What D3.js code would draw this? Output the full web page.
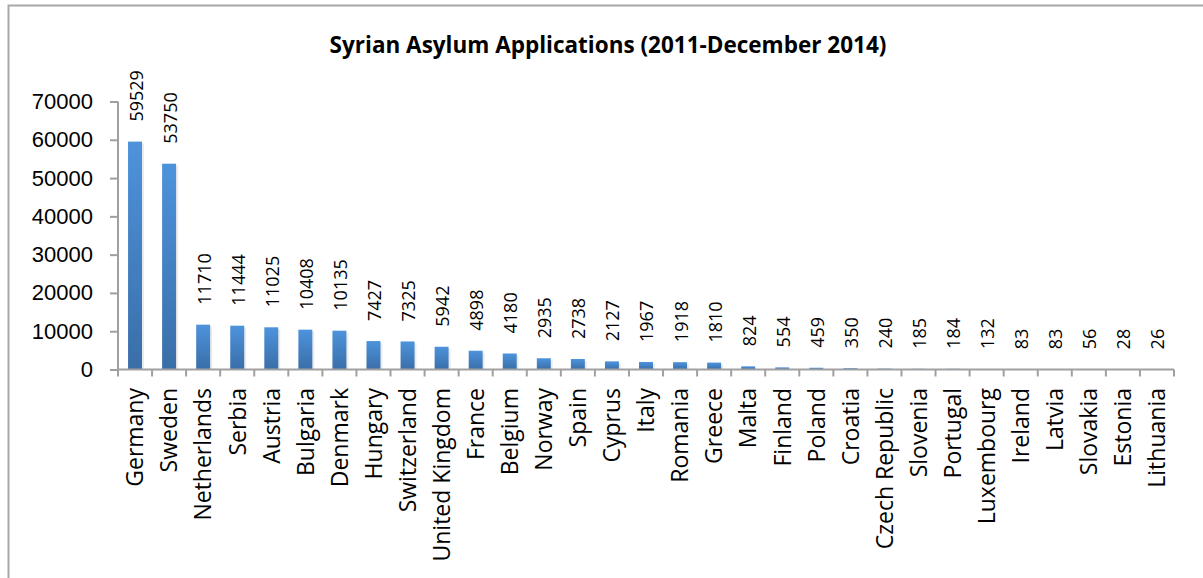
<!DOCTYPE html>
<html>
<head>
<meta charset="utf-8">
<script src="https://cdn.jsdelivr.net/npm/d3@7"></script>
<style>
  body { margin: 0; background: #fff; }
  svg { display: block; }
</style>
</head>
<body>
<svg id="chart"></svg>
<script>
"use strict";

var countries = ["Germany", "Sweden", "Netherlands", "Serbia", "Austria", "Bulgaria", "Denmark",
    "Hungary", "Switzerland", "United Kingdom", "France", "Belgium", "Norway", "Spain", "Cyprus",
    "Italy", "Romania", "Greece", "Malta", "Finland", "Poland", "Croatia", "Czech Republic",
    "Slovenia", "Portugal", "Luxembourg", "Ireland", "Latvia", "Slovakia", "Estonia", "Lithuania"];
var applications = [59529, 53750, 11710, 11444, 11025, 10408, 10135, 7427, 7325, 5942, 4898,
    4180, 2935, 2738, 2127, 1967, 1918, 1810, 824, 554, 459, 350, 240, 185, 184, 132, 83, 83,
    56, 28, 26];
var yTicks = [0, 10000, 20000, 30000, 40000, 50000, 60000, 70000];
var title = "Syrian Asylum Applications (2011-December 2014)";

var width = 1203, height = 578;
var axisColor = "#a0a0a0";

var svg = d3.select("#chart")
    .attr("width", width)
    .attr("height", height);

var defs = svg.append("defs");
var grad = defs.append("linearGradient")
    .attr("id", "barGrad")
    .attr("x1", 0).attr("y1", 0)
    .attr("x2", 0).attr("y2", 1);
grad.append("stop").attr("offset", "0%").attr("stop-color", "#4d93dc");
grad.append("stop").attr("offset", "100%").attr("stop-color", "#3a6ea8");

// outer frame (only top and left edges are visible)
svg.append("rect")
    .attr("x", 8.5)
    .attr("y", 5.5)
    .attr("width", 1400)
    .attr("height", 800)
    .attr("fill", "none")
    .attr("stroke", "#a8a8a8")
    .attr("stroke-width", 2);

var x = d3.scaleBand()
    .domain(countries)
    .range([118, 1174])
    .paddingInner(0.59)
    .paddingOuter(0.295);

var y = d3.scaleLinear()
    .domain([0, 70000])
    .range([369.5, 101.5]);

// title
svg.append("text")
    .attr("x", 608)
    .attr("y", 53)
    .attr("text-anchor", "middle")
    .style("font-family", "'Open Sans', sans-serif")
    .style("font-weight", "bold")
    .style("font-size", "22.5px")
    .attr("fill", "#000")
    .text(title);

// bars with a faint shadow on the right
var barGroup = svg.append("g");
barGroup.selectAll("rect.shadow")
    .data(applications)
    .enter().append("rect")
    .attr("class", "shadow")
    .attr("x", function(d, i) { return x(countries[i]) + 2; })
    .attr("y", function(d) { return y(d) + 2; })
    .attr("width", x.bandwidth())
    .attr("height", function(d) { return y(0) - y(d) - 2; })
    .attr("fill", "#000")
    .attr("opacity", 0.08);

barGroup.selectAll("rect.bar")
    .data(applications)
    .enter().append("rect")
    .attr("class", "bar")
    .attr("x", function(d, i) { return x(countries[i]); })
    .attr("y", function(d) { return y(d); })
    .attr("width", x.bandwidth())
    .attr("height", function(d) { return y(0) - y(d); })
    .attr("fill", "url(#barGrad)");

// y axis
var yAxis = svg.append("g")
    .attr("transform", "translate(118,0)")
    .call(d3.axisLeft(y).tickValues(yTicks).tickSize(8).tickPadding(17).tickFormat(d3.format("d")));
yAxis.select(".domain").attr("stroke", axisColor).attr("stroke-width", 2)
    .attr("d", "M0," + y(70000) + "V" + y(0));
yAxis.selectAll(".tick line").attr("stroke", axisColor).attr("stroke-width", 2);
yAxis.selectAll(".tick text")
    .attr("fill", "#000")
    .style("font-family", "'Liberation Sans', Arial, sans-serif")
    .style("font-size", "22px");

// x axis with boundary ticks
var xAxis = svg.append("g")
    .attr("transform", "translate(0," + y(0) + ")");
xAxis.append("line")
    .attr("x1", 118).attr("x2", 1174)
    .attr("stroke", axisColor).attr("stroke-width", 2);
var bounds = countries.map(function(c) { return x(c) - x.step() * x.paddingInner() / 2; });
bounds.push(1174);
xAxis.selectAll("line.tick")
    .data(bounds)
    .enter().append("line")
    .attr("class", "tick")
    .attr("x1", function(d) { return d; })
    .attr("x2", function(d) { return d; })
    .attr("y1", 0).attr("y2", 7)
    .attr("stroke", axisColor).attr("stroke-width", 2);

// category labels
svg.append("g").selectAll("text")
    .data(countries)
    .enter().append("text")
    .attr("transform", function(d) {
        return "translate(" + (x(d) + x.bandwidth() / 2) + ",388) rotate(-90)";
    })
    .attr("dy", "0.36em")
    .attr("text-anchor", "end")
    .style("font-family", "'Open Sans', sans-serif")
    .style("font-size", "23px")
    .attr("fill", "#000")
    .text(function(d) { return d; });

// value labels
svg.append("g").selectAll("text")
    .data(applications)
    .enter().append("text")
    .attr("transform", function(d, i) {
        return "translate(" + (x(countries[i]) + x.bandwidth() / 2 + 1) + "," + (y(d) - 20) + ") rotate(-90)";
    })
    .attr("dy", "0.36em")
    .attr("text-anchor", "start")
    .style("font-family", "'Open Sans', sans-serif")
    .style("font-size", "18px")
    .attr("fill", "#000")
    .text(function(d) { return d; });
</script>
</body>
</html>
